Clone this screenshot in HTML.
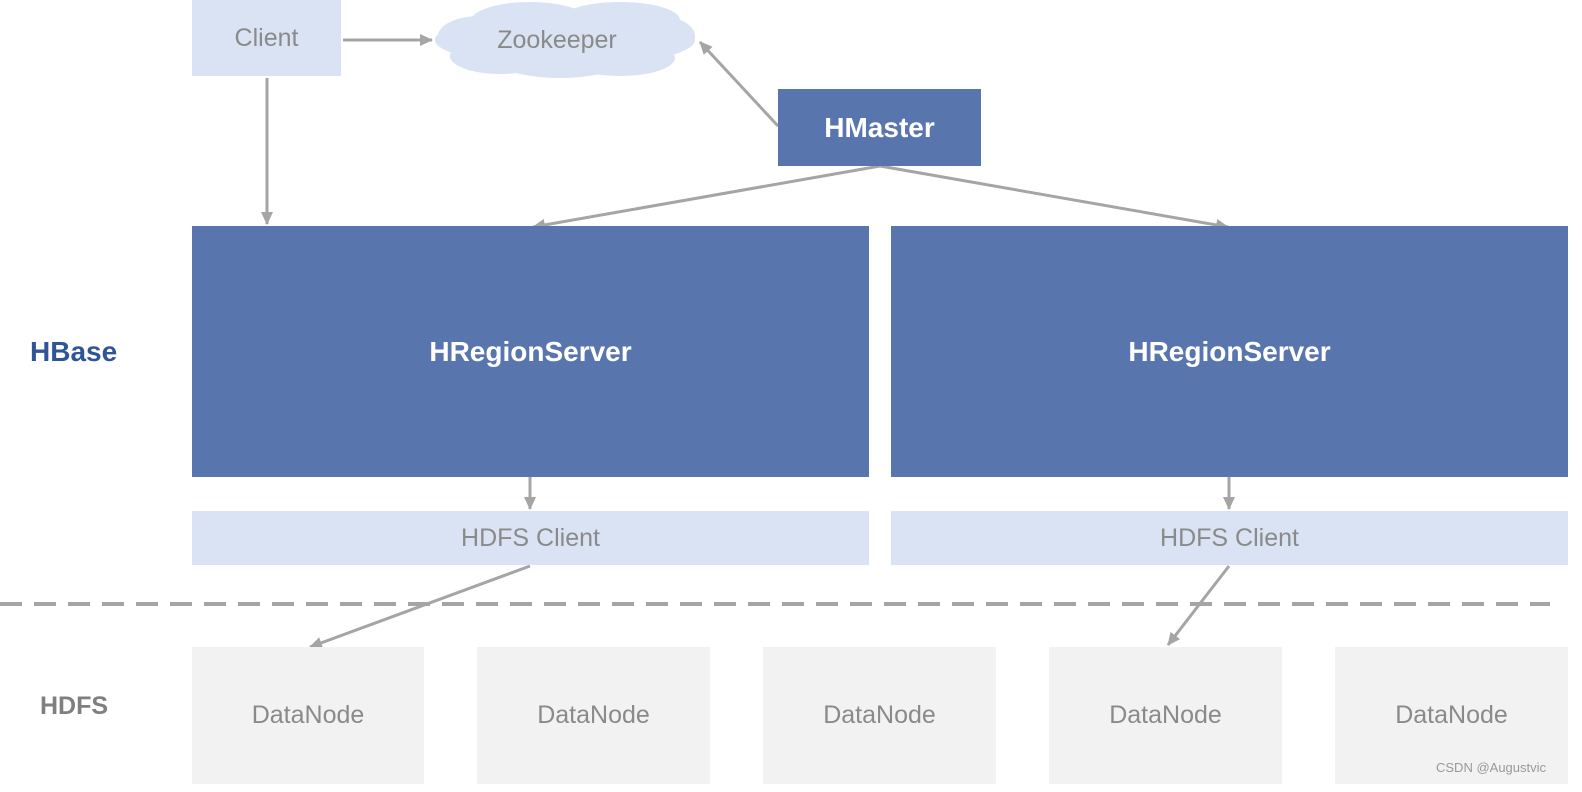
<!DOCTYPE html>
<html><head><meta charset="utf-8"><style>
html,body{margin:0;padding:0;background:#fff;}
body{width:1582px;height:792px;position:relative;overflow:hidden;font-family:"Liberation Sans","Noto Sans CJK SC",sans-serif;}
.b{position:absolute;display:flex;align-items:center;justify-content:center;}
.dk{background:#5876ad;color:#fff;font-weight:bold;font-size:28px;}
.lt{background:#dae3f3;color:#8a8a8a;font-size:25px;}
.dn{background:#f2f2f2;color:#8a8a8a;font-size:25px;}
</style></head><body>
<svg width="1582" height="792" style="position:absolute;left:0;top:0">
<defs><marker id="a" markerWidth="14" markerHeight="14" refX="12" refY="7" orient="auto" markerUnits="userSpaceOnUse"><path d="M0,1 L13,7 L0,13 z" fill="#a5a5a5"/></marker></defs>
<g fill="#dae3f3">
<ellipse cx="565" cy="40" rx="130" ry="26"/>
<ellipse cx="480" cy="36" rx="42" ry="20"/>
<ellipse cx="650" cy="36" rx="45" ry="22"/>
<ellipse cx="530" cy="22" rx="60" ry="20"/>
<ellipse cx="620" cy="20" rx="60" ry="18"/>
<ellipse cx="500" cy="56" rx="50" ry="18"/>
<ellipse cx="620" cy="58" rx="55" ry="18"/>
<ellipse cx="560" cy="62" rx="60" ry="16"/>
</g>
<g stroke="#a5a5a5" stroke-width="3" fill="none">
<line x1="343" y1="40" x2="432" y2="40" marker-end="url(#a)"/>
<line x1="267" y1="78" x2="267" y2="224" marker-end="url(#a)"/>
<line x1="778" y1="126" x2="700" y2="42" marker-end="url(#a)"/>
<line x1="880" y1="166" x2="533" y2="227" marker-end="url(#a)"/>
<line x1="880" y1="166" x2="1228" y2="227" marker-end="url(#a)"/>
<line x1="530" y1="477" x2="530" y2="509" marker-end="url(#a)"/>
<line x1="1229" y1="477" x2="1229" y2="509" marker-end="url(#a)"/>
<line x1="530" y1="566" x2="310" y2="647" marker-end="url(#a)"/>
<line x1="1229" y1="566" x2="1168" y2="645" marker-end="url(#a)"/>
<line x1="0" y1="604" x2="1550" y2="604" stroke-width="4" stroke-dasharray="22,12"/>
</g>
<text x="557" y="48" font-size="25" fill="#8a8a8a" text-anchor="middle" font-family="Liberation Sans, sans-serif">Zookeeper</text>
</svg>
<div class="b lt" style="left:192px;top:0;width:149px;height:76px;">Client</div>
<div class="b dk" style="left:778px;top:89px;width:203px;height:77px;">HMaster</div>
<div class="b dk" style="left:192px;top:226px;width:677px;height:251px;">HRegionServer</div>
<div class="b dk" style="left:891px;top:226px;width:677px;height:251px;">HRegionServer</div>
<div class="b lt" style="left:192px;top:511px;width:677px;height:54px;">HDFS Client</div>
<div class="b lt" style="left:891px;top:511px;width:677px;height:54px;">HDFS Client</div>
<div class="b dn" style="left:192px;top:647px;width:232px;height:137px;">DataNode</div>
<div class="b dn" style="left:477px;top:647px;width:233px;height:137px;">DataNode</div>
<div class="b dn" style="left:763px;top:647px;width:233px;height:137px;">DataNode</div>
<div class="b dn" style="left:1049px;top:647px;width:233px;height:137px;">DataNode</div>
<div class="b dn" style="left:1335px;top:647px;width:233px;height:137px;">DataNode</div>
<div style="position:absolute;left:30px;top:336px;font-size:28px;font-weight:bold;color:#2f5597;">HBase</div>
<div style="position:absolute;left:40px;top:692px;font-size:25px;font-weight:bold;color:#7f7f7f;">HDFS</div>
<div style="position:absolute;left:1436px;top:760px;font-size:13px;color:#999;">CSDN @Augustvic</div>
</body></html>
